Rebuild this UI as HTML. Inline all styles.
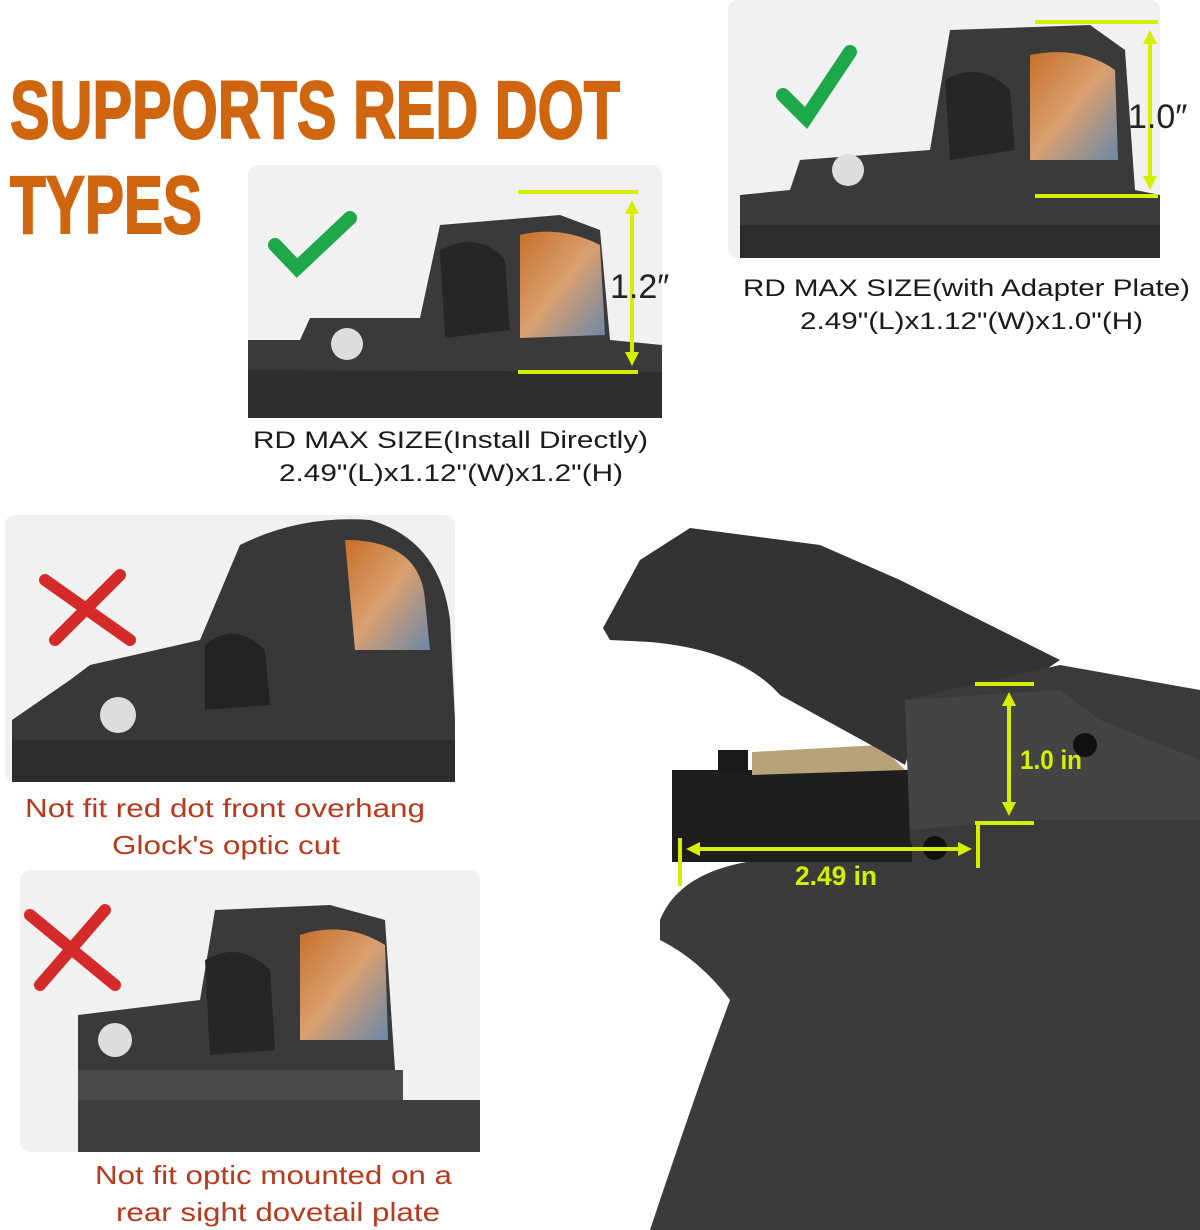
<!DOCTYPE html>
<html><head><meta charset="utf-8"><style>
html,body{margin:0;padding:0;background:#fff;width:1200px;height:1230px;overflow:hidden}
svg{position:absolute;left:0;top:0}
</style></head><body>
<svg width="1200" height="1230" viewBox="0 0 1200 1230" xmlns="http://www.w3.org/2000/svg" font-family="Liberation Sans, sans-serif">
<defs>
<linearGradient id="lens" x1="0" y1="0" x2="1" y2="1"><stop offset="0" stop-color="#c8702a"/><stop offset="0.5" stop-color="#d9a070"/><stop offset="1" stop-color="#6a88a8"/></linearGradient>
</defs>
<rect width="1200" height="1230" fill="#fff"/>
<g fill="#d0650f" font-weight="bold" font-size="82" stroke="#d0650f" stroke-width="2">
<text x="10" y="138" textLength="610" lengthAdjust="spacingAndGlyphs">SUPPORTS RED DOT</text>
<text x="10" y="233" textLength="192" lengthAdjust="spacingAndGlyphs">TYPES</text>
</g>

<rect x="248" y="165" width="414" height="253" rx="10" fill="#f1f1f1"/>
<path d="M248 340 L300 340 L310 318 L420 318 L440 225 L560 215 L600 230 L610 340 L662 345 L662 418 L248 418Z" fill="#3a3a3a"/>
<path d="M248 370 L662 372 L662 418 L248 418Z" fill="#2e2e2e"/>
<path d="M520 235 Q560 225 600 245 L605 335 L520 338Z" fill="url(#lens)"/>
<path d="M440 250 Q480 230 505 260 L510 330 L445 338Z" fill="#262626"/>
<circle cx="347" cy="344" r="16" fill="#ddd"/>
<path d="M275 245 L297 268 L350 218" stroke="#1fa84a" stroke-width="14" fill="none" stroke-linecap="round"/>
<g stroke="#d4f000" stroke-width="4" fill="none">
<line x1="518" y1="192" x2="638" y2="192"/><line x1="518" y1="372" x2="638" y2="372"/>
<line x1="632" y1="205" x2="632" y2="360"/>
</g>
<path d="M632 200 l-7 14 h14z M632 366 l-7 -14 h14z" fill="#d4f000"/>
<text x="610" y="298" font-size="34" fill="#222">1.2″</text>
<g font-size="24" fill="#1a1a1a">
<text x="253" y="448" textLength="395" lengthAdjust="spacingAndGlyphs">RD MAX SIZE(Install Directly)</text>
<text x="279" y="481" textLength="344" lengthAdjust="spacingAndGlyphs">2.49"(L)x1.12"(W)x1.2"(H)</text>
</g>

<rect x="728" y="0" width="432" height="258" rx="10" fill="#f1f1f1"/>
<path d="M740 195 L790 190 L800 160 L930 150 L950 30 L1090 25 L1125 50 L1135 190 L1160 195 L1160 258 L740 258Z" fill="#3a3a3a"/>
<path d="M740 225 L1160 225 L1160 258 L740 258Z" fill="#2c2c2c"/>
<path d="M1030 55 Q1080 45 1115 70 L1118 160 L1030 160Z" fill="url(#lens)"/>
<path d="M945 80 Q980 60 1010 90 L1015 150 L950 160Z" fill="#262626"/>
<circle cx="848" cy="170" r="16" fill="#ddd"/>
<path d="M783 95 L806 118 L850 52" stroke="#1fa84a" stroke-width="14" fill="none" stroke-linecap="round"/>
<g stroke="#d4f000" stroke-width="4" fill="none">
<line x1="1035" y1="22" x2="1158" y2="22"/><line x1="1035" y1="196" x2="1158" y2="196"/>
<line x1="1150" y1="35" x2="1150" y2="185"/>
</g>
<path d="M1150 30 l-7 14 h14z M1150 190 l-7 -14 h14z" fill="#d4f000"/>
<text x="1128" y="128" font-size="34" fill="#222">1.0″</text>
<g font-size="24" fill="#1a1a1a">
<text x="743" y="296" textLength="447" lengthAdjust="spacingAndGlyphs">RD MAX SIZE(with Adapter Plate)</text>
<text x="800" y="329" textLength="343" lengthAdjust="spacingAndGlyphs">2.49"(L)x1.12"(W)x1.0"(H)</text>
</g>

<rect x="5" y="515" width="450" height="267" rx="10" fill="#f1f1f1"/>
<path d="M12 720 L70 680 L90 665 L200 640 L240 545 Q300 515 370 520 Q440 540 450 620 L455 720 L455 782 L12 782Z" fill="#383838"/>
<path d="M12 740 L455 740 L455 782 L12 782Z" fill="#2d2d2d"/>
<path d="M345 540 Q420 540 425 600 L430 650 L355 650Z" fill="url(#lens)"/>
<path d="M205 645 Q235 620 265 650 L270 705 L205 710Z" fill="#232323"/>
<circle cx="118" cy="715" r="18" fill="#ddd"/>
<path d="M45 580 L130 640 M120 575 L55 640" stroke="#d42a2a" stroke-width="12" stroke-linecap="round"/>
<g font-size="26" fill="#b83a1e">
<text x="25" y="817" textLength="400" lengthAdjust="spacingAndGlyphs">Not fit red dot front overhang</text>
<text x="112" y="854" textLength="228" lengthAdjust="spacingAndGlyphs">Glock's optic cut</text>
</g>

<rect x="20" y="870" width="460" height="282" rx="10" fill="#f1f1f1"/>
<path d="M78 1015 L200 1000 L215 910 L330 905 L385 920 L395 1070 L78 1070Z" fill="#3a3a3a"/>
<rect x="78" y="1070" width="325" height="30" fill="#4a4a4a"/>
<path d="M78 1100 L480 1100 L480 1152 L78 1152Z" fill="#3e3e3e"/>
<path d="M300 935 Q345 920 385 945 L388 1040 L300 1040Z" fill="url(#lens)"/>
<path d="M205 960 Q240 940 270 970 L275 1050 L210 1055Z" fill="#262626"/>
<circle cx="115" cy="1040" r="17" fill="#ddd"/>
<path d="M30 915 L115 985 M105 910 L40 985" stroke="#d42a2a" stroke-width="12" stroke-linecap="round"/>
<g font-size="26" fill="#b83a1e">
<text x="95" y="1184" textLength="357" lengthAdjust="spacingAndGlyphs">Not fit optic mounted on a</text>
<text x="116" y="1221" textLength="324" lengthAdjust="spacingAndGlyphs">rear sight dovetail plate</text>
</g>

<path d="M660 920 Q680 870 760 860 L915 840 L1000 1060 L1070 1230 L650 1230 Q700 1080 730 1000 Q700 960 660 940Z" fill="#3b3b3b"/>
<rect x="672" y="770" width="240" height="92" fill="#1e1e1e"/>
<rect x="718" y="750" width="30" height="22" fill="#1a1a1a"/>
<path d="M752 752 L880 745 L905 770 L752 775Z" fill="#b8a27a"/>
<path d="M603 628 L640 560 L690 528 L820 545 L900 580 L1060 660 L1000 700 L920 720 L905 765 L880 750 L780 695 Q740 650 650 642 L610 640Z" fill="#333"/>
<path d="M905 700 L1060 665 L1200 690 L1200 1230 L1060 1230 L990 1060 L910 840Z" fill="#3a3a3a"/>
<path d="M905 700 L1060 690 L1100 720 L1200 760 L1200 820 L1020 820 L910 830Z" fill="#444"/>
<circle cx="1085" cy="745" r="12" fill="#111"/>
<circle cx="935" cy="848" r="12" fill="#111"/>
<g stroke="#d4f000" stroke-width="4" fill="none">
<line x1="975" y1="684" x2="1034" y2="684"/><line x1="975" y1="823" x2="1034" y2="823"/>
<line x1="1009" y1="700" x2="1009" y2="808"/>
<line x1="680" y1="838" x2="680" y2="886"/><line x1="978" y1="822" x2="978" y2="868"/>
<line x1="695" y1="849" x2="962" y2="849"/>
</g>
<path d="M1009 692 l-7 14 h14z M1009 816 l-7 -14 h14z M686 849 l14 -7 v14z M972 849 l-14 -7 v14z" fill="#d4f000"/>
<g font-weight="bold" fill="#d4f000" font-size="27">
<text x="1020" y="769" textLength="62" lengthAdjust="spacingAndGlyphs">1.0 in</text>
<text x="795" y="885" textLength="82" lengthAdjust="spacingAndGlyphs">2.49 in</text>
</g>
</svg>
</body></html>
